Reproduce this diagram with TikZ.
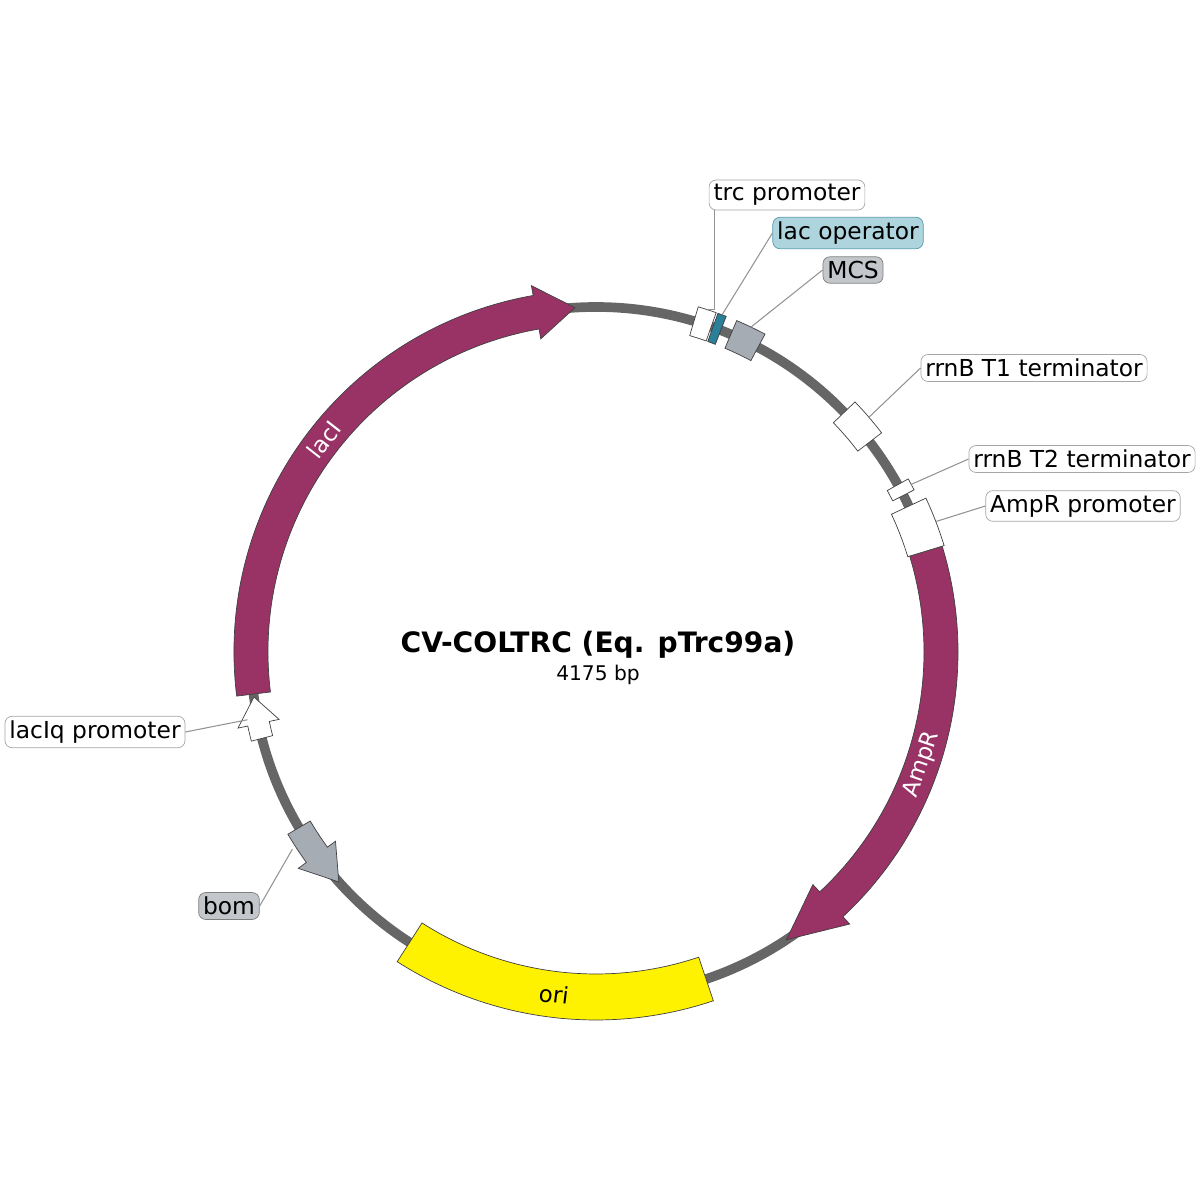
\documentclass[tikz,border=0pt]{standalone}
\usepackage{fontspec}
\setmainfont{DejaVu Sans}
\definecolor{bb}{HTML}{666666}
\definecolor{plum}{HTML}{993366}
\definecolor{feat}{HTML}{A6ACB3}
\definecolor{lblgray}{HTML}{C3C6CA}
\definecolor{opfill}{HTML}{AED4DE}
\definecolor{opdark}{HTML}{2A7F99}
\newcommand{\band}[5]{\filldraw[#1] (#2:#4) arc[start angle=#2,end angle=#3,radius=#4] -- (#3:#5) arc[start angle=#3,end angle=#2,radius=#5] -- cycle;}
% style, a1, ahead, atip, rin, rout, hin, hout
\newcommand{\feat}[8]{\filldraw[#1] (#2:#6) arc[start angle=#2,end angle=#3,radius=#6] -- (#3:#8) -- (#4:{(#5+#6)/2}) -- (#3:#7) -- (#3:#5) arc[start angle=#3,end angle=#2,radius=#5] -- cycle;}
\begin{document}
\begin{tikzpicture}[x=0.02cm,y=0.02cm,
  lbl/.style={draw=gray!70,rounded corners=4pt,fill=white,inner sep=2.5pt,font=\fontsize{13.3}{15}\selectfont},
  ld/.style={draw=gray!85,line width=0.6pt},
  fo/.style={draw=black!75,line width=0.4pt}]
\useasboundingbox (-596,-548) rectangle (604,652);
\draw[bb,line width=5.5pt] (0,0) circle[radius=345];
% features
\feat{fo,fill=plum}{187}{100}{93.5}{328}{362}{318}{372}
\feat{fo,fill=plum}{17}{-47}{-56.5}{328}{362}{318}{372}
\band{fo,fill=yellow}{237.3}{288.6}{322}{368}
\feat{fo,fill=feat}{210.6}{216}{221.8}{332}{358}{322}{368}
\feat{fo,fill=white}{194.5}{192}{187.5}{334}{356}{324}{366}
\band{fo,fill=white}{70.5}{73.5}{330}{360}
\band{fo,fill=opdark}{68.8}{70.2}{330}{360}
\band{fo,fill=feat}{62}{67}{330}{360}
\band{fo,fill=white}{37.5}{44}{330}{360}
\band{fo,fill=white}{27}{29}{333}{357}
\band{fo,fill=white}{17}{25}{326}{364}
% feature labels
\node[white,rotate=52,font=\fontsize{13}{15}\selectfont] (tlacI) at (142:345) {lacI};
\node[white,rotate=71,font=\fontsize{13}{15}\selectfont] (tAmpR) at (-19:345) {AmpR};
\node[rotate=-7,font=\fontsize{13}{15}\selectfont] (tori) at (263:345) {ori};
% title
\node[font=\bfseries\fontsize{16}{18}\selectfont] (title) at (2,7) {CV-COLTRC (Eq. pTrc99a)};
\node[font=\fontsize{11.5}{13}\selectfont] (bp) at (2,-23) {4175 bp};
% labels
\node[lbl] (ltrc) at (191,457) {trc promoter};
\node[lbl,fill=opfill,draw=opdark!80] (lop) at (252,419) {lac operator};
\node[lbl,fill=lblgray,draw=gray] (lmcs) at (257,382) {MCS};
\node[lbl] (lt1) at (438,284) {rrnB T1 terminator};
\node[lbl] (lt2) at (486,193) {rrnB T2 terminator};
\node[lbl] (lamp) at (487,146) {AmpR promoter};
\node[lbl] (llacq) at (-501,-80) {lacIq promoter};
\node[lbl,fill=lblgray,draw=gray] (lbom) at (-367,-254) {bom};
\coordinate (ctrc) at (72:360);
\coordinate (cop) at (69.5:360);
\coordinate (cmcs) at (64.5:360);
\coordinate (ct1) at (40.7:360);
\coordinate (ct2) at (28:357);
\coordinate (camp) at (21:364);
\coordinate (clacq) at (191:355);
\coordinate (cbom) at (213:362);
\draw[ld] (ltrc.south west)++(6,0) |- (ctrc);
\draw[ld] (lop.west) -- (cop);
\draw[ld] (lmcs.west) -- (cmcs);
\draw[ld] (lt1.west) -- (ct1);
\draw[ld] (lt2.west) -- (ct2);
\draw[ld] (lamp.west) -- (camp);
\draw[ld] (llacq.east) -- (clacq);
\draw[ld] (lbom.east) -- (cbom);
\end{tikzpicture}
\end{document}
